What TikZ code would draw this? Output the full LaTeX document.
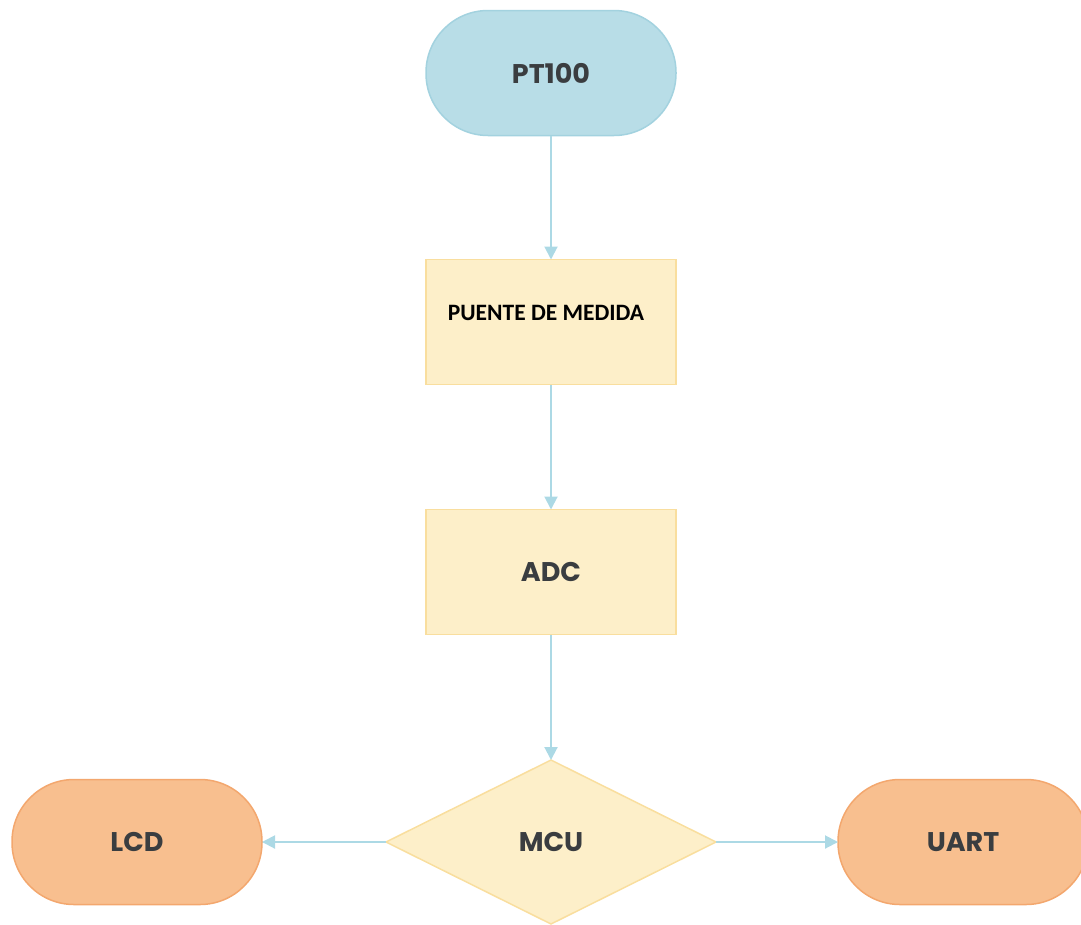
\documentclass[tikz,border=0pt]{standalone}
\usepackage{fontspec}
\setmainfont{Poppins}
\newfontfamily\calibri{Carlito}
\usetikzlibrary{shapes.geometric}
\usetikzlibrary{arrows.meta}
\usepackage{xcolor}
\definecolor{skyfill}{HTML}{B8DDE7}
\definecolor{skyline}{HTML}{A3D2DF}
\definecolor{creamfill}{HTML}{FDEFC9}
\definecolor{creamline}{HTML}{F9DE9E}
\definecolor{peachfill}{HTML}{F8BF8F}
\definecolor{peachline}{HTML}{F3A76E}
\definecolor{flowcol}{HTML}{ACD9E5}
\definecolor{labelcol}{HTML}{3A3D40}

\begin{document}
\begin{tikzpicture}[x=1pt,y=-1pt,
	every node/.style={font=\bfseries\fontsize{27}{30}\selectfont, text=labelcol, outer sep=0pt},
	stadium/.style={rectangle, rounded corners=62pt, minimum width=250pt, minimum height=125pt, line width=1.5pt},
	blockbox/.style={rectangle, minimum width=250pt, minimum height=125pt, line width=1.5pt, fill=creamfill, draw=creamline},
	flow/.style={-{Triangle[width=13pt,length=13pt]}, line width=2pt, flowcol}]
	\useasboundingbox (0,0) rectangle (1081,924);
	\node [stadium, fill=skyfill, draw=skyline] (pt) at (551, 73) {PT100};
	\node [blockbox, label={[font=\calibri\bfseries\fontsize{23.5}{26}\selectfont, text=black, xshift=-5pt, yshift=9pt]center:PUENTE DE MEDIDA}] (puente) at (551, 322) {};
	\node [blockbox] (adc) at (551, 572) {ADC};
	\node [diamond, minimum width=330pt, minimum height=164pt, line width=1.5pt, fill=creamfill, draw=creamline] (mcu) at (551, 842) {MCU};
	\node [stadium, fill=peachfill, draw=peachline] (lcd) at (137, 842) {LCD};
	\node [stadium, fill=peachfill, draw=peachline] (uart) at (963, 842) {UART};
	\draw [flow] (pt.south) -- (puente.north);
	\draw [flow] (puente.south) -- (adc.north);
	\draw [flow] (adc.south) -- (mcu.north);
	\draw [flow] (mcu.west) -- (lcd.east);
	\draw [flow] (mcu.east) -- (uart.west);
\end{tikzpicture}
\end{document}
